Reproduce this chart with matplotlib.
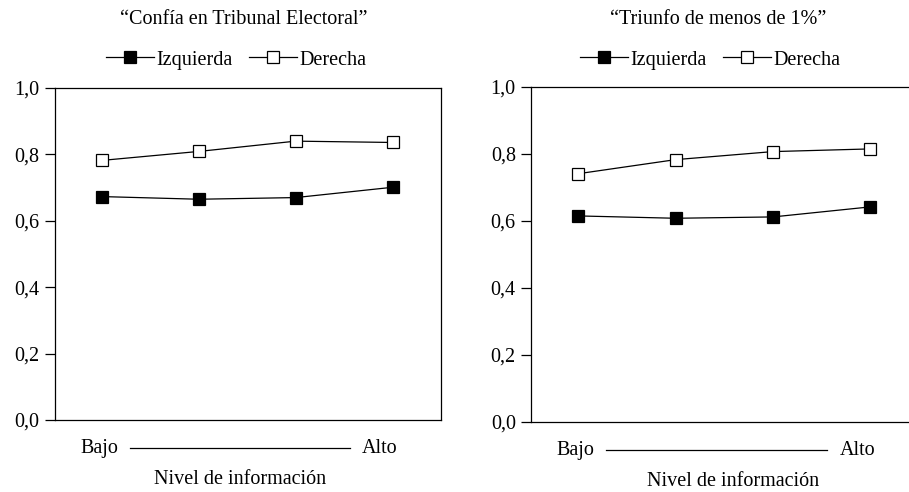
import matplotlib
matplotlib.use("Agg")
import matplotlib.pyplot as plt
from matplotlib.lines import Line2D
from matplotlib.ticker import FuncFormatter

plt.rcParams['font.family'] = ['Liberation Serif', 'DejaVu Serif']

levels = [0, 1, 2, 3]
titles = ["\u201cConfía en Tribunal Electoral\u201d", "\u201cTriunfo de menos de 1%\u201d"]
izquierda = [[0.673, 0.665, 0.670, 0.701], [0.614, 0.607, 0.611, 0.641]]
derecha = [[0.782, 0.809, 0.840, 0.836], [0.740, 0.782, 0.806, 0.814]]
yticks = [0.0, 0.2, 0.4, 0.6, 0.8, 1.0]
xlabel_low, xlabel_high = "Bajo", "Alto"
xlabel = "Nivel de información"

fig = plt.figure(figsize=(9.09, 4.92), dpi=100)
positions = [[0.0605, 0.1463, 0.4246, 0.6748], [0.5842, 0.143, 0.4268, 0.681]]
title_x = [244 / 909, 718 / 909]
legend_x = [236 / 909, 710 / 909]
fs = 14.5

for i in range(2):
    ax = fig.add_axes(positions[i])
    ax.plot(levels, izquierda[i], color='black', lw=0.9, marker='s', ms=8.5,
            mfc='black', mec='black', mew=0.9, label='Izquierda')
    ax.plot(levels, derecha[i], color='black', lw=0.9, marker='s', ms=8.5,
            mfc='white', mec='black', mew=0.9, label='Derecha')
    ax.set_xlim(-0.485, 3.5)
    ax.set_ylim(0, 1.0)
    ax.set_yticks(yticks)
    ax.yaxis.set_major_formatter(FuncFormatter(lambda v, p: f"{v:.1f}".replace('.', ',')))
    ax.set_xticks([])
    ax.tick_params(axis='y', direction='out', length=7, width=0.9, labelsize=fs, pad=4)
    for s in ax.spines.values():
        s.set_linewidth(0.9)
    # x-axis descriptive labels
    ax.text(0.065, -0.085, xlabel_low, transform=ax.transAxes, ha='left', va='center', fontsize=fs)
    ax.text(0.795, -0.085, xlabel_high, transform=ax.transAxes, ha='left', va='center', fontsize=fs)
    ax.add_line(Line2D([0.194, 0.764], [-0.085, -0.085], transform=ax.transAxes,
                       color='black', lw=0.9, clip_on=False))
    ax.text(0.48 if i == 0 else 0.52, -0.18, xlabel, transform=ax.transAxes, ha='center',
            va='center', fontsize=fs)
    fig.text(title_x[i], 1 - 19 / 492, titles[i], ha='center', va='center', fontsize=fs)
    fig.legend(*ax.get_legend_handles_labels(), loc='center', ncol=2,
               bbox_to_anchor=(legend_x[i], 1 - 60 / 492), frameon=False, fontsize=fs,
               handlelength=2.4, handletextpad=0.1, columnspacing=0.8, borderpad=0)

fig.savefig("out.png", dpi=100)
